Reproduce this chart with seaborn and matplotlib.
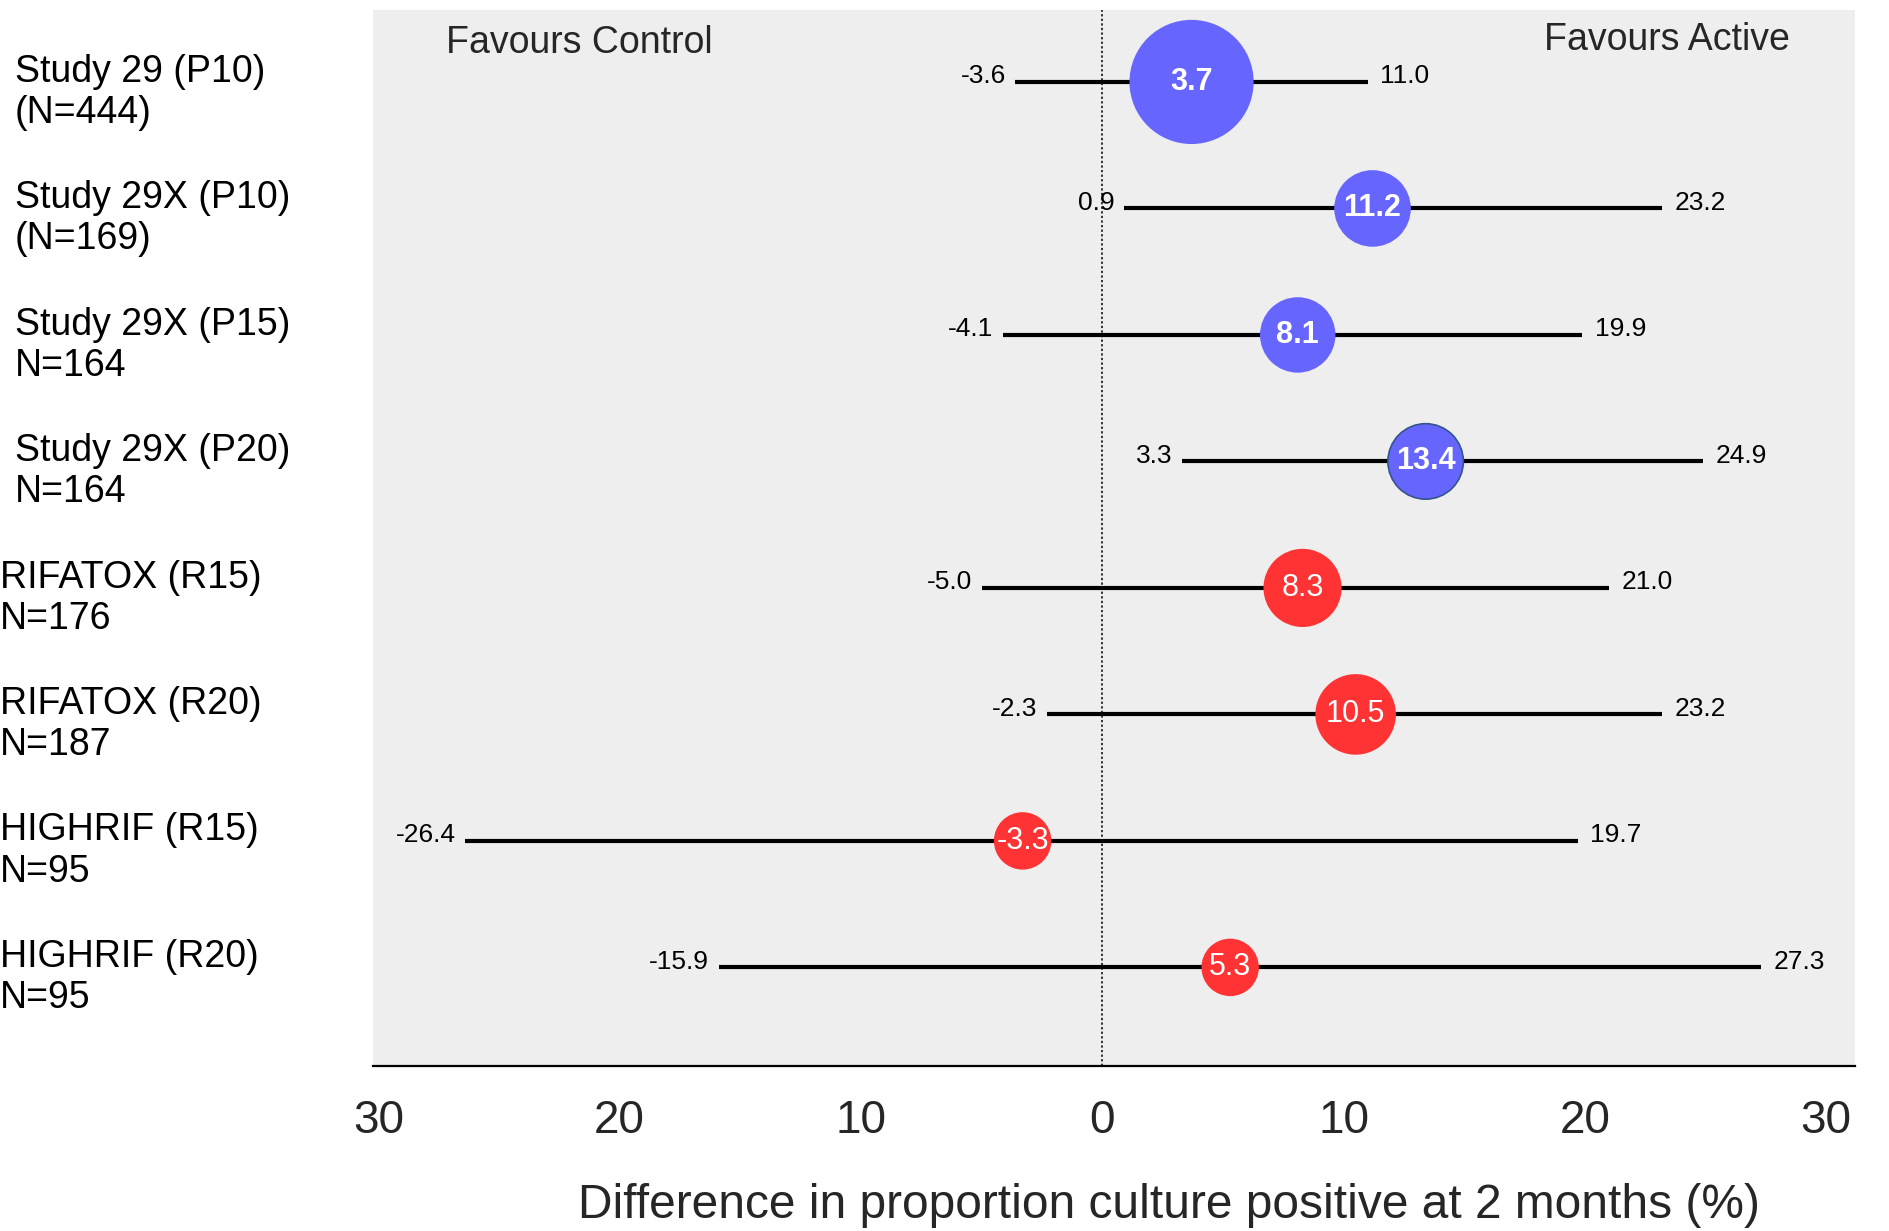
import numpy as np
import pandas as pd
import matplotlib
matplotlib.use("Agg")
import matplotlib.pyplot as plt
from matplotlib.ticker import FuncFormatter
import seaborn as sns

# ---- data -------------------------------------------------------------
studies = ["Study 29 (P10)\n(N=444)", "Study 29X (P10)\n(N=169)",
           "Study 29X (P15)\nN=164", "Study 29X (P20)\nN=164",
           "RIFATOX (R15)\nN=176", "RIFATOX (R20)\nN=187",
           "HIGHRIF (R15)\nN=95", "HIGHRIF (R20)\nN=95"]
n_patients = [444, 169, 164, 164, 176, 187, 95, 95]
drug = ["P", "P", "P", "P", "R", "R", "R", "R"]
estimate = [3.7, 11.2, 8.1, 13.4, 8.3, 10.5, -3.3, 5.3]
ci_low = [-3.6, 0.9, -4.1, 3.3, -5.0, -2.3, -26.4, -15.9]
ci_high = [11.0, 23.2, 19.9, 24.9, 21.0, 23.2, 19.7, 27.3]
x_ticks = [-30, -20, -10, 0, 10, 20, 30]

# ---- styling ------------------------------------------------------------
palette = {"P": "#6666FF", "R": "#FF3333"}
value_weight = {"P": "bold", "R": "normal"}
label_indent = [0.008, 0.008, 0.008, 0.008, 0.0, 0.0, 0.0, 0.0]
outlined = [False, False, False, True, False, False, False, False]
area_per_patient = 18.0  # marker area (pt^2) per patient

df = pd.DataFrame({"study": studies, "N": n_patients, "drug": drug,
                   "est": estimate, "lo": ci_low, "hi": ci_high})
df["row"] = np.arange(len(df))

sns.set_theme(style="white")
plt.rcParams["font.family"] = ["Liberation Sans", "DejaVu Sans"]

fig = plt.figure(figsize=(18.89, 12.31), dpi=100)
ax = fig.add_axes([0.1977, 0.134, 0.7844, 0.858])
ax.set_facecolor("#EEEEEE")

# reference line at no difference
ax.axvline(0, color="black", lw=1.1, ls=(0, (1.5, 1.5)), zorder=1)

# confidence intervals
ax.hlines(df["row"], df["lo"], df["hi"], color="black", lw=3, zorder=2)

# point estimates, marker area proportional to N
sns.scatterplot(data=df, x="est", y="row", hue="drug", palette=palette,
                size="N", size_norm=(min(n_patients), max(n_patients)),
                sizes=(area_per_patient * min(n_patients),
                       area_per_patient * max(n_patients)),
                linewidth=0, legend=False, ax=ax, zorder=3)
coll = ax.collections[-1]
coll.set_edgecolors([(0.2, 0.33, 0.55, 1.0) if o else (0, 0, 0, 0) for o in outlined])
coll.set_linewidths([1.2 if o else 0 for o in outlined])

for _, r in df.iterrows():
    ax.text(r["est"], r["row"], f"{r['est']:.1f}", ha="center", va="center",
            color="white", fontsize=22, fontweight=value_weight[r["drug"]], zorder=4)
    ax.annotate(f"{r['lo']:.1f}", (r["lo"], r["row"]), xytext=(-7, 4),
                textcoords="offset points", ha="right", va="center",
                fontsize=19, color="black")
    ax.annotate(f"{r['hi']:.1f}", (r["hi"], r["row"]), xytext=(9, 4),
                textcoords="offset points", ha="left", va="center",
                fontsize=19, color="black")

# study labels on the left margin
trans = matplotlib.transforms.blended_transform_factory(fig.transFigure, ax.transData)
for i, r in df.iterrows():
    ax.text(label_indent[i], r["row"] + 0.08, r["study"], transform=trans,
            ha="left", va="center", fontsize=27, linespacing=1.18, color="black")

ax.text(0.049, 0.969, "Favours Control", transform=ax.transAxes,
        ha="left", va="center", fontsize=27)
ax.text(0.956, 0.971, "Favours Active", transform=ax.transAxes,
        ha="right", va="center", fontsize=27)

ax.set_xlim(-30.2, 31.2)
ax.set_ylim(7.78, -0.57)
ax.set_xticks(x_ticks)
ax.xaxis.set_major_formatter(FuncFormatter(lambda v, p: f"{abs(v):.0f}"))
ax.tick_params(axis="x", length=0, pad=24, labelsize=33)
ax.set_yticks([])
ax.set_ylabel("")
ax.set_xlabel("Difference in proportion culture positive at 2 months (%)", fontsize=34.5)
ax.xaxis.set_label_coords(0.537, -0.111)

for s in ["top", "right", "left"]:
    ax.spines[s].set_visible(False)
ax.spines["bottom"].set_color("black")
ax.spines["bottom"].set_linewidth(1.6)

fig.savefig("out.png", dpi=100)
